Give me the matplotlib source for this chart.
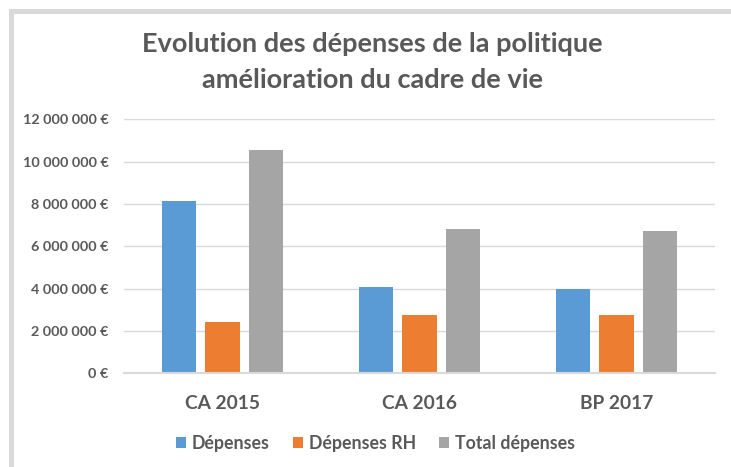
import matplotlib
matplotlib.use("Agg")
import matplotlib.pyplot as plt
import numpy as np
from matplotlib.patches import Rectangle, Patch
from matplotlib.ticker import FuncFormatter

categories = ["CA 2015", "CA 2016", "BP 2017"]
series_names = ["Dépenses", "Dépenses RH", "Total dépenses"]
depenses = [8130000, 4090000, 3980000]
depenses_rh = [2410000, 2750000, 2750000]
total_depenses = [10560000, 6840000, 6730000]
colors = ["#5B9BD5", "#ED7D31", "#A5A5A5"]
title_lines = ["Evolution des dépenses de la politique", "amélioration du cadre de vie"]
y_ticks = [0, 2000000, 4000000, 6000000, 8000000, 10000000, 12000000]

W, H = 731, 467
TXT = "#595959"
plt.rcParams['font.family'] = ['Lato', 'DejaVu Sans']
plt.rcParams['font.weight'] = 'bold'

fig = plt.figure(figsize=(W / 100, H / 100), dpi=100)

# frame border
fig.patches.append(Rectangle((10.8 / W, -0.2), 1.5, 1.2 - 10.8 / H,
                             transform=fig.transFigure, fill=False,
                             edgecolor="#D9D9D9", linewidth=3.6, zorder=0))

ax = fig.add_axes([124 / W, 1 - 373.3 / H, (715 - 124) / W, (373.3 - 119.3) / H])

x = np.arange(len(categories))
bw = 0.1726
step = 0.221
for i, (vals, c, name) in enumerate(zip([depenses, depenses_rh, total_depenses], colors, series_names)):
    ax.bar(x + (i - 1) * step, vals, width=bw, color=c, label=name, zorder=3)

ax.set_xlim(-0.5, 2.5)
ax.set_ylim(0, 12000000)
ax.set_yticks(y_ticks)
ax.yaxis.set_major_formatter(FuncFormatter(lambda v, p: "{:,.0f} €".format(v).replace(",", " ")))
ax.grid(axis='y', color="#D9D9D9", linewidth=1.0, zorder=0)
for s in ["top", "right", "left"]:
    ax.spines[s].set_visible(False)
ax.spines["bottom"].set_color("#D9D9D9")
ax.spines["bottom"].set_linewidth(1.5)
ax.spines["bottom"].set_zorder(4)

ax.tick_params(axis='y', length=0, pad=11, labelsize=10.4, labelcolor=TXT)
ax.set_xticks(x)
ax.set_xticklabels(categories, fontsize=13.8, color=TXT, fontweight='bold')
ax.tick_params(axis='x', length=0, pad=26)
for lab in ax.get_xticklabels():
    lab.set_va('baseline')
for lab in ax.get_yticklabels():
    lab.set_fontweight('bold')
    lab.set_va('center_baseline')

fig.text(372 / W, 1 - 51.7 / H, title_lines[0], ha='center', va='baseline',
         fontsize=19.5, color=TXT, fontweight='bold')
fig.text(372 / W, 1 - 88.3 / H, title_lines[1], ha='center', va='baseline',
         fontsize=19.5, color=TXT, fontweight='bold')

handles = [Patch(facecolor=c, edgecolor='none') for c in colors]
leg = fig.legend(handles, series_names, loc='center', bbox_to_anchor=(375.5 / W, 1 - 443 / H),
                 ncol=3, frameon=False, fontsize=12.8, handlelength=0.55, handleheight=0.55,
                 handletextpad=0.35, columnspacing=1.3, borderpad=0)
for t in leg.get_texts():
    t.set_color(TXT)
    t.set_fontweight('bold')

fig.savefig("out.png", dpi=100)
